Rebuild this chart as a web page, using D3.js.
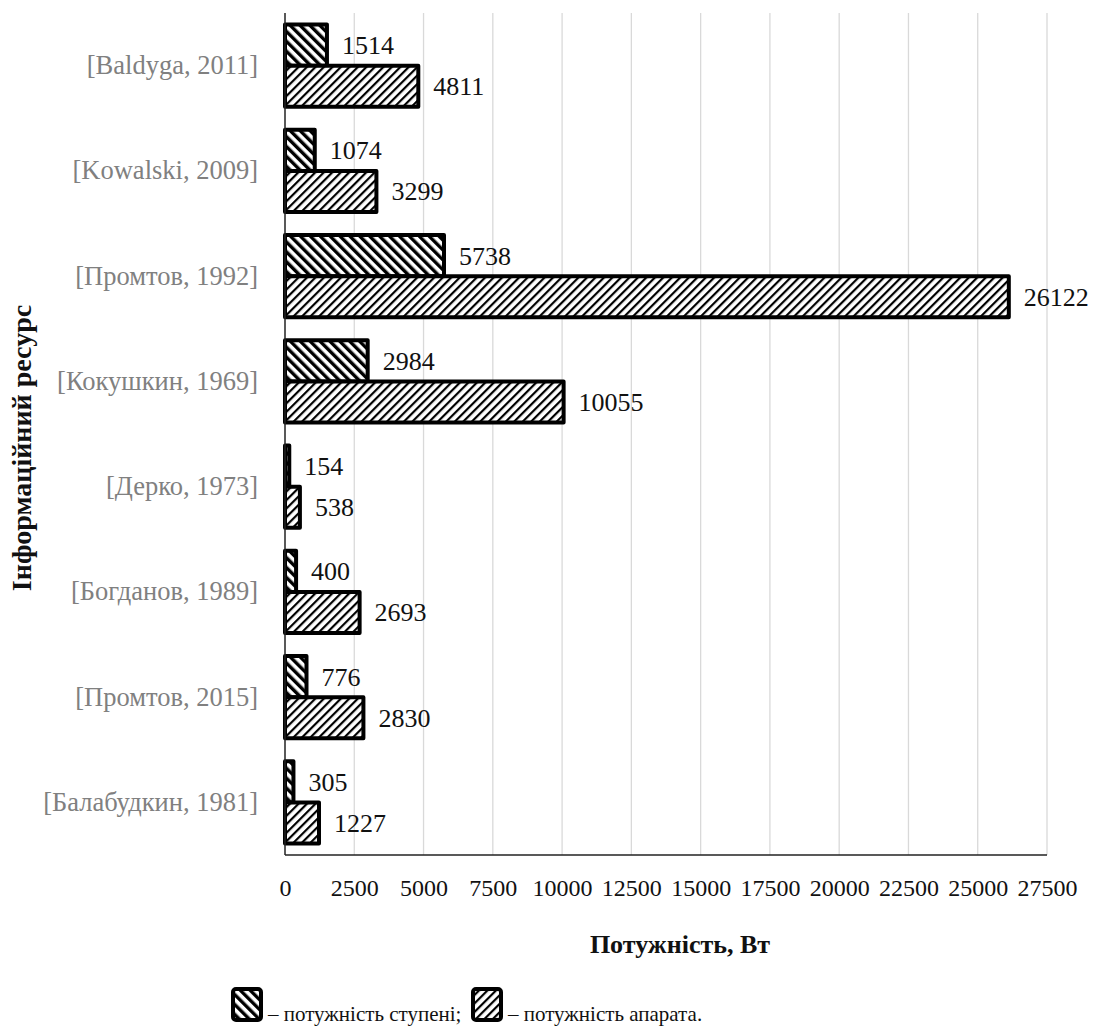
<!DOCTYPE html>
<html>
<head>
<meta charset="utf-8">
<script src="https://cdn.jsdelivr.net/npm/d3@7/dist/d3.min.js"></script>
<style>
  html, body { margin: 0; padding: 0; background: #fff; }
</style>
</head>
<body>
<svg id="chart" width="1094" height="1030"></svg>
<script>
// Sources (top to bottom) and their power values, W
const categories = [
  "[Baldyga, 2011]",
  "[Kowalski, 2009]",
  "[Промтов, 1992]",
  "[Кокушкин, 1969]",
  "[Дерко, 1973]",
  "[Богданов, 1989]",
  "[Промтов, 2015]",
  "[Балабудкин, 1981]"
];
const stagePower = [1514, 1074, 5738, 2984, 154, 400, 776, 305];
const apparatusPower = [4811, 3299, 26122, 10055, 538, 2693, 2830, 1227];
const xTicks = [0, 2500, 5000, 7500, 10000, 12500, 15000, 17500, 20000, 22500, 25000, 27500];
const seriesKeys = ["stage", "apparatus"];
const legendLabels = ["– потужність ступені;", "– потужність апарата."];
const xTitle = "Потужність, Вт";
const yTitle = "Інформаційний ресурс";

const FONT = '"Liberation Serif"';

const svg = d3.select("#chart");
const margin = { left: 285, right: 1047, top: 13, bottom: 855 };

// Hatch patterns for the two series
const defs = svg.append("defs");
const stagePat = defs.append("pattern")
  .attr("id", "hatch-stage").attr("patternUnits", "userSpaceOnUse")
  .attr("width", 7).attr("height", 7)
  .attr("patternTransform", "rotate(-45)");
stagePat.append("rect").attr("width", 7).attr("height", 7).attr("fill", "#fff");
stagePat.append("rect").attr("x", 0).attr("width", 3.4).attr("height", 7).attr("fill", "#000");

const appPat = defs.append("pattern")
  .attr("id", "hatch-apparatus").attr("patternUnits", "userSpaceOnUse")
  .attr("width", 6).attr("height", 6)
  .attr("patternTransform", "rotate(45)");
appPat.append("rect").attr("width", 6).attr("height", 6).attr("fill", "#fff");
appPat.append("rect").attr("x", 0).attr("width", 2.2).attr("height", 6).attr("fill", "#000");

const fills = { stage: "url(#hatch-stage)", apparatus: "url(#hatch-apparatus)" };

const x = d3.scaleLinear().domain([0, 27500]).range([margin.left, margin.right]);
const y = d3.scaleBand().domain(categories).range([margin.top, margin.bottom]).paddingInner(0.22).paddingOuter(0.11);
const ySub = d3.scaleBand().domain(seriesKeys).range([0, y.bandwidth()]);

// Vertical gridlines
svg.append("g")
  .selectAll("line")
  .data(xTicks.slice(1))
  .join("line")
  .attr("x1", d => x(d)).attr("x2", d => x(d))
  .attr("y1", margin.top).attr("y2", margin.bottom)
  .attr("stroke", "#d9d9d9").attr("stroke-width", 1.3);

// Bottom baseline
svg.append("line")
  .attr("x1", margin.left).attr("x2", margin.right)
  .attr("y1", margin.bottom).attr("y2", margin.bottom)
  .attr("stroke", "#222").attr("stroke-width", 1.5);

// X tick labels
const xAxis = d3.axisBottom(x).tickValues(xTicks).tickSize(0).tickPadding(24).tickFormat(d3.format("d"));
const gx = svg.append("g").attr("transform", `translate(0,${margin.bottom})`).call(xAxis);
gx.select(".domain").remove();
gx.attr("font-family", null).attr("font-size", null);
gx.selectAll("text")
  .style("font-family", FONT)
  .style("font-size", "24px")
  .attr("fill", "#111");

// Bars
const rows = categories.map((c, i) => ({ cat: c, stage: stagePower[i], apparatus: apparatusPower[i] }));
const groups = svg.append("g").selectAll("g")
  .data(rows).join("g")
  .attr("transform", d => `translate(0,${y(d.cat)})`);

groups.selectAll("rect")
  .data(d => seriesKeys.map(k => ({ key: k, value: d[k] })))
  .join("rect")
  .attr("x", x(0))
  .attr("y", d => ySub(d.key))
  .attr("width", d => x(d.value) - x(0))
  .attr("height", ySub.bandwidth())
  .attr("fill", d => fills[d.key])
  .attr("stroke", "#000")
  .attr("stroke-width", 4)
  .attr("stroke-linejoin", "round");

// Value labels
groups.selectAll("text")
  .data(d => seriesKeys.map(k => ({ key: k, value: d[k] })))
  .join("text")
  .attr("x", d => x(d.value) + 15)
  .attr("y", d => ySub(d.key) + ySub.bandwidth() / 2)
  .attr("dy", "0.35em")
  .style("font-family", FONT)
  .style("font-size", "26px")
  .attr("fill", "#111")
  .text(d => d.value);

// Left axis line
svg.append("line")
  .attr("x1", margin.left).attr("x2", margin.left)
  .attr("y1", margin.top).attr("y2", margin.bottom)
  .attr("stroke", "#222").attr("stroke-width", 1.5);

// Category labels
const yAxis = d3.axisLeft(y).tickSize(0).tickPadding(27);
const gy = svg.append("g").attr("transform", `translate(${margin.left},0)`).call(yAxis);
gy.select(".domain").remove();
gy.attr("font-family", null).attr("font-size", null);
gy.selectAll("text")
  .style("font-family", FONT)
  .style("font-size", "26.5px")
  .attr("fill", "#808080");

// Axis titles
svg.append("text")
  .attr("x", 680)
  .attr("y", 953)
  .attr("text-anchor", "middle")
  .style("font-family", FONT)
  .style("font-weight", "bold")
  .style("font-size", "26px")
  .attr("fill", "#111")
  .text(xTitle);

svg.append("text")
  .attr("transform", `translate(31,448) rotate(-90)`)
  .attr("text-anchor", "middle")
  .style("font-family", FONT)
  .style("font-weight", "bold")
  .style("font-size", "28px")
  .attr("fill", "#111")
  .text(yTitle);

// Legend
const legendItems = [
  { key: "stage", x: 233, tx: 268 },
  { key: "apparatus", x: 473, tx: 508 }
];
const lg = svg.append("g");
legendItems.forEach((it, i) => {
  lg.append("rect")
    .attr("x", it.x).attr("y", 989)
    .attr("width", 28).attr("height", 31)
    .attr("rx", 3)
    .attr("fill", fills[it.key])
    .attr("stroke", "#000").attr("stroke-width", 4);
  lg.append("text")
    .attr("x", it.tx).attr("y", 1021)
    .style("font-family", FONT)
    .style("font-size", "21px")
    .attr("fill", "#111")
    .text(legendLabels[i]);
});
</script>
</body>
</html>
